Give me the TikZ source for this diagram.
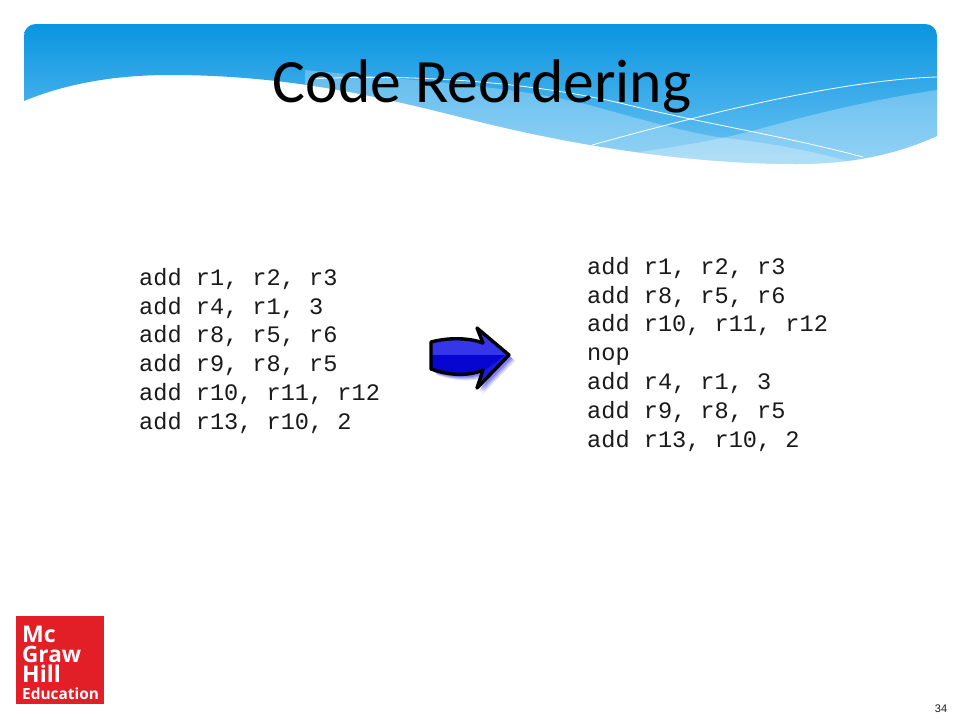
\documentclass[tikz,border=0pt]{standalone}
\usepackage{fontspec}
\setmainfont{Liberation Sans}
\newfontfamily\titlefont{Carlito}
\newfontfamily\codefont{Liberation Mono}
\newfontfamily\logofont{Open Sans}
\definecolor{bandtop}{HTML}{0A95E0}
\definecolor{bandbot}{HTML}{6CC3F3}
\definecolor{logored}{HTML}{E21F26}
\definecolor{arrowlight}{HTML}{3535EA}
\definecolor{arrowdark}{HTML}{0606D0}
\definecolor{arrowhead}{HTML}{1C1CDE}
\definecolor{codegray}{HTML}{1A1A1A}
\tikzset{
  codeblock/.style={anchor=north west,inner sep=0pt,align=left,text=codegray,
    font=\codefont\fontsize{23.6}{28.8}\selectfont},
  logotext/.style={anchor=base west,inner sep=0pt,text=white,text height=15pt,text depth=0pt,
    font=\logofont\bfseries\fontsize{#1}{#1}\selectfont},
  overlay layer/.style={fill=white,fill opacity=#1,draw=none},
  thinwhite/.style={draw=white,line width=0.8pt}
}
\newcommand{\bandpath}{(24,101) .. controls (70,82) and (120,75) .. (170,75)
  .. controls (300,75) and (400,102) .. (480,122)
  .. controls (590,149) and (700,164) .. (797,164)
  .. controls (850,164) and (895,155) .. (937,136)
  -- (937,36) .. controls (937,29) and (932,24) .. (925,24)
  -- (36,24) .. controls (29,24) and (24,29) .. (24,36) -- cycle}
\newcommand{\arrowpath}{(431,342) .. controls (450,337) and (470,338) .. (483,343)
  -- (477,328) -- (509,355) -- (477,388) -- (483,370)
  .. controls (470,376) and (450,376) .. (431,369) -- cycle}
\begin{document}
\begin{tikzpicture}[x=1pt,y=-1pt]
\useasboundingbox (0,0) rectangle (960,720);
\fill[white] (0,0) rectangle (960,720);
% header band
\shade[top color=bandtop,bottom color=bandbot] \bandpath;
\begin{scope}
  \clip \bandpath;
  \fill[overlay layer=0.27] (305,70) .. controls (400,80) and (520,85) .. (600,108)
     .. controls (660,125) and (700,135) .. (725,138)
     .. controls (770,143) and (820,152) .. (860,165) -- (860,200) -- (305,200) -- cycle;
  \fill[overlay layer=0.27] (937,90) .. controls (870,100) and (810,115) .. (763,128)
     .. controls (720,140) and (680,146) .. (640,152) -- (640,200) -- (937,200) -- cycle;
\end{scope}
\coordinate (lineAstart) at (310,79);
\coordinate (lineAend) at (863,157);
\coordinate (lineBstart) at (592,145);
\coordinate (lineBend) at (937,77);
\draw[thinwhite] (lineAstart) .. controls (400,74) and (520,80) .. (620,103)
   .. controls (700,123) and (780,135) .. (lineAend);
\draw[thinwhite] (lineBstart) .. controls (700,115) and (840,80) .. (lineBend);
% title
\node[anchor=base,inner sep=0pt,text=black,font=\titlefont\fontsize{61.6}{61.6}\selectfont] (title) at (482,102.5) {Code Reordering};
% code
\node[codeblock] (before) at (139,268) {add r1, r2, r3\\add r4, r1, 3\\add r8, r5, r6\\add r9, r8, r5\\add r10, r11, r12\\add r13, r10, 2};
\node[codeblock] (after) at (587,257) {add r1, r2, r3\\add r8, r5, r6\\add r10, r11, r12\\nop\\add r4, r1, 3\\add r9, r8, r5\\add r13, r10, 2};
% arrow
\foreach \d/\o in {6/0.14,5/0.18,4/0.25,3/0.35}{
  \fill[blue!75!white,opacity=\o,line join=round] [shift={(\d,\d)}] \arrowpath;
}
\begin{scope}
  \clip \arrowpath;
  \fill[arrowlight] (425,320) rectangle (515,355);
  \fill[arrowhead] (480,355) rectangle (515,395);
  \fill[arrowdark] (425,355) -- (505,355) -- (483,372) -- (425,395) -- cycle;
\end{scope}
\draw[black,line width=3.4pt,line join=round] \arrowpath;
% logo
\node[fill=logored,minimum width=88pt,minimum height=88pt,inner sep=0pt] (logo) at (60,660) {};
\node[logotext=23] (mc) at (22,642) {Mc};
\node[logotext=22.5] (graw) at (22,662) {Graw};
\node[logotext=23] (hill) at (22,682) {Hill};
\node[logotext=15.4] (edu) at (22,699) {Education};
% page number
\node[anchor=base,inner sep=0pt,text=codegray,font=\fontsize{11}{11}\selectfont] (page) at (941,712) {34};
\end{tikzpicture}
\end{document}
